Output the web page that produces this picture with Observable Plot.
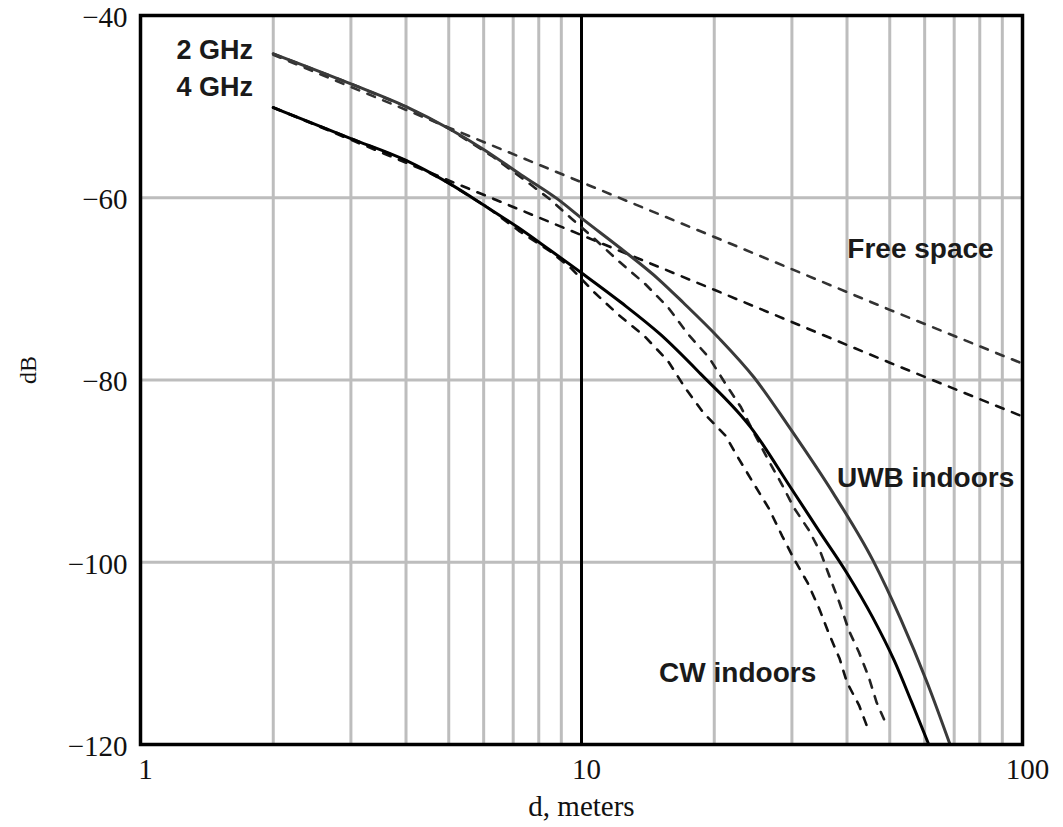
<!DOCTYPE html>
<html><head><meta charset="utf-8">
<script src="https://cdn.jsdelivr.net/npm/d3@7"></script>
<script src="https://cdn.jsdelivr.net/npm/@observablehq/plot@0.6"></script>
<style>body{margin:0;background:#fff}</style>
</head><body><div id="chart"></div>
<script>
// Axis ticks and grid
const xTicks = [1, 10, 100];
const yTicks = [-120, -100, -80, -60, -40];
const xGrid = [2, 3, 4, 5, 6, 7, 8, 9, 20, 30, 40, 50, 60, 70, 80, 90];
const yGrid = [-100, -80, -60];
const xMajor = [10];

// UWB indoors, 2 GHz (upper solid)
const uwb2D  = [2, 3, 4, 5, 6, 7.3, 8.8, 10.1, 12.3, 15, 17, 20.4, 24.6, 29.8, 37.3, 45.8, 52.8, 60.9, 68.5];
const uwb2DB = [-44.2, -47.5, -50.0, -52.4, -54.7, -57.5, -60.1, -62.4, -65.6, -69.0, -71.5, -75.3, -79.7, -85.4, -92.5, -99.8, -106.1, -113.3, -120];

// UWB indoors, 4 GHz (lower solid)
const uwb4D  = [2, 3, 4, 5, 6, 7.2, 8.4, 10.1, 12.3, 15.1, 18.6, 24.2, 29.8, 34.5, 40, 45.8, 51.2, 56, 61.3];
const uwb4DB = [-50.1, -53.5, -55.9, -58.4, -60.8, -63.3, -65.6, -68.4, -71.5, -75.0, -79.3, -85.2, -91.8, -96.5, -101.2, -106.1, -110.8, -115.3, -120];

// Free space, 2 GHz and 4 GHz (dashed)
const fs2D  = [2, 5, 10, 20, 50, 100];
const fs2DB = [-44.3, -52.3, -58.3, -64.3, -72.3, -78.2];
const fs4D  = [2, 5, 10, 20, 50, 100];
const fs4DB = [-50.1, -58.1, -64.1, -70.1, -78.1, -84.0];

// CW indoors, 2 GHz and 4 GHz (dashed)
const cw2D  = [2, 3, 4, 5, 6.3, 7.5, 8.5, 9.5, 10.7, 12.1, 13.9, 15.7, 17.4, 19.5, 21.2, 23.0, 24.6, 26.6, 28.5, 30.3, 32.8, 34.9, 36.6, 38.5, 40.4, 42.6, 44.8, 46.7, 49.4];
const cw2DB = [-44.2, -47.5, -50.0, -52.4, -55.5, -58.2, -60.2, -62.3, -64.5, -66.9, -69.4, -72.0, -74.9, -77.6, -80.4, -83.0, -85.8, -88.9, -91.5, -94.0, -96.5, -99.0, -101.7, -104.5, -107.5, -109.9, -112.6, -115.4, -118.1];
const cw4D  = [2, 3, 4, 5, 6.1, 7.2, 8.5, 9.5, 10.7, 12.1, 13.9, 15.7, 17.2, 18.9, 21.2, 22.7, 24.6, 26.6, 28.5, 30.3, 32.6, 34.6, 36.3, 38.5, 40.0, 42.6, 44.8];
const cw4DB = [-50.1, -53.5, -55.9, -58.4, -61.0, -63.6, -65.9, -67.8, -70.4, -72.8, -75.2, -77.9, -80.9, -83.6, -86.1, -88.6, -91.4, -94.1, -97.1, -99.6, -102.3, -105.1, -107.7, -110.6, -113.2, -115.7, -118.5];

// Annotations (data coordinates)
const freqLabels = ["2 GHz", "4 GHz"];
const freqLabelD = [1.8, 1.8];
const freqLabelDB = [-43.8, -47.9];
const curveLabels = ["Free space", "UWB indoors", "CW indoors"];
const curveLabelD = [58.7, 60.3, 22.6];
const curveLabelDB = [-65.6, -90.8, -112.2];

const xLabel = "d, meters";
const yLabel = "dB";

const rows = (d, db) => d.map((v, i) => ({d: v, dB: db[i]}));
const labelRows = (t, d, db) => t.map((s, i) => ({text: s, d: d[i], dB: db[i]}));

const serif = "'Liberation Serif', 'Times New Roman', serif";
const sans = "'Liberation Sans', Arial, sans-serif";
const dash = "8,9";

const chart = Plot.plot({
  width: 1063,
  height: 827,
  marginLeft: 140,
  marginRight: 41,
  marginTop: 15,
  marginBottom: 83,
  style: {background: "#fff", fontFamily: serif},
  x: {type: "log", domain: [1, 100]},
  y: {domain: [-120, -40]},
  marks: [
    Plot.ruleX(xGrid, {stroke: "#bdbdbd", strokeWidth: 3}),
    Plot.ruleY(yGrid, {stroke: "#bdbdbd", strokeWidth: 3}),
    Plot.ruleX(xMajor, {stroke: "#000", strokeWidth: 3}),
    Plot.line(rows(fs2D, fs2DB), {x: "d", y: "dB", stroke: "#333", strokeWidth: 2.6, strokeDasharray: dash}),
    Plot.line(rows(fs4D, fs4DB), {x: "d", y: "dB", stroke: "#111", strokeWidth: 2.6, strokeDasharray: dash}),
    Plot.line(rows(cw2D, cw2DB), {x: "d", y: "dB", stroke: "#222", strokeWidth: 2.6, strokeDasharray: dash}),
    Plot.line(rows(cw4D, cw4DB), {x: "d", y: "dB", stroke: "#111", strokeWidth: 2.6, strokeDasharray: dash}),
    Plot.line(rows(uwb2D, uwb2DB), {x: "d", y: "dB", stroke: "#3a3a3a", strokeWidth: 3, curve: "monotone-x"}),
    Plot.line(rows(uwb4D, uwb4DB), {x: "d", y: "dB", stroke: "#000", strokeWidth: 3, curve: "monotone-x"}),
    Plot.frame({stroke: "#000", strokeWidth: 3.5}),
    Plot.axisX({ticks: xTicks, tickSize: 0, tickPadding: 14, fontSize: 29, fontFamily: serif, fill: "#111", tickFormat: d => String(d), label: null, dx: 5}),
    Plot.axisY({ticks: yTicks, tickSize: 0, tickPadding: 13, fontSize: 29, fontFamily: serif, fill: "#111", label: null, dy: 2}),
    Plot.text([xLabel], {frameAnchor: "bottom", dy: 71, fontSize: 29, fontFamily: serif, fill: "#111"}),
    Plot.text([yLabel], {frameAnchor: "left", dx: -112, dy: 4, rotate: -90, fontSize: 24, fontFamily: serif, fill: "#111"}),
    Plot.text(labelRows(freqLabels, freqLabelD, freqLabelDB), {x: "d", y: "dB", text: "text", textAnchor: "end", fontSize: 27, fontWeight: "bold", fontFamily: sans, fill: "#1a1a1a"}),
    Plot.text(labelRows(curveLabels, curveLabelD, curveLabelDB), {x: "d", y: "dB", text: "text", textAnchor: "middle", fontSize: 28, fontWeight: "bold", fontFamily: sans, fill: "#1a1a1a"})
  ]
});
document.getElementById("chart").append(chart);
</script>
</body></html>
